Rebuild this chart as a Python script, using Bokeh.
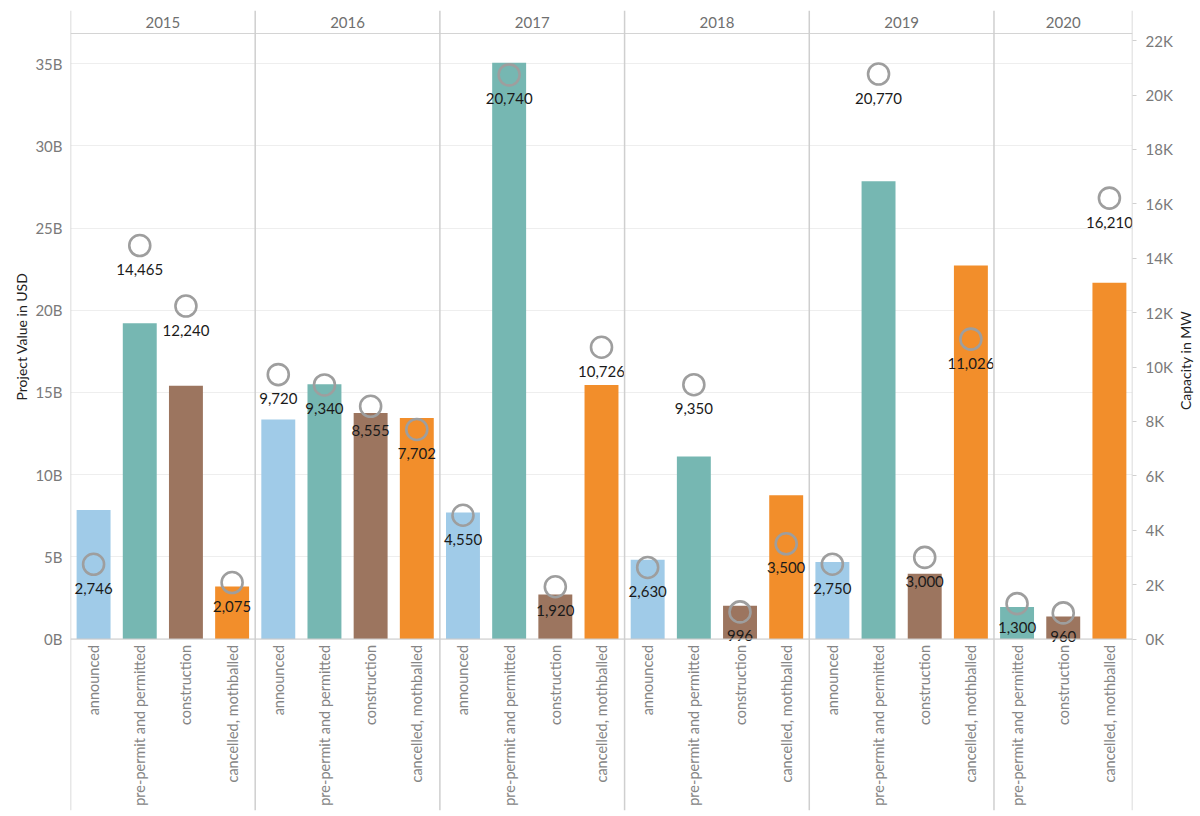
from bokeh.plotting import figure
from bokeh.layouts import row
from bokeh.models import Range1d, LinearAxis, FixedTicker, Span, ColumnDataSource, Title
from bokeh.embed import file_html
from bokeh.resources import INLINE
from bokeh.core.properties import value
import math

# ---------------- data ----------------
years = ["2015", "2016", "2017", "2018", "2019", "2020"]
year_status = [
    ["announced", "pre-permit and permitted", "construction", "cancelled, mothballed"],
    ["announced", "pre-permit and permitted", "construction", "cancelled, mothballed"],
    ["announced", "pre-permit and permitted", "construction", "cancelled, mothballed"],
    ["announced", "pre-permit and permitted", "construction", "cancelled, mothballed"],
    ["announced", "pre-permit and permitted", "construction", "cancelled, mothballed"],
    ["pre-permit and permitted", "construction", "cancelled, mothballed"],
]
# Project value in billions USD (bars)
value_2015 = [7.85, 19.2, 15.4, 3.2]
value_2016 = [13.35, 15.5, 13.75, 13.45]
value_2017 = [7.7, 35.05, 2.7, 15.45]
value_2018 = [4.82, 11.1, 2.02, 8.75]
value_2019 = [4.68, 27.85, 3.97, 22.72]
value_2020 = [1.94, 1.37, 21.67]
# Capacity in MW (circles)
capacity_2015 = [2746, 14465, 12240, 2075]
capacity_2016 = [9720, 9340, 8555, 7702]
capacity_2017 = [4550, 20740, 1920, 10726]
capacity_2018 = [2630, 9350, 996, 3500]
capacity_2019 = [2750, 20770, 3000, 11026]
capacity_2020 = [1300, 960, 16210]

usd_ticks = [0, 5, 10, 15, 20, 25, 30, 35]
mw_ticks = [0, 2000, 4000, 6000, 8000, 10000, 12000, 14000, 16000, 18000, 20000, 22000]

left_axis_title = "Project Value in USD"
right_axis_title = "Capacity in MW"

status_colors = {
    "announced": "#A0CBE8",
    "pre-permit and permitted": "#76B7B2",
    "construction": "#9C755F",
    "cancelled, mothballed": "#F28E2B",
}

values = [value_2015, value_2016, value_2017, value_2018, value_2019, value_2020]
capacities = [capacity_2015, capacity_2016, capacity_2017, capacity_2018, capacity_2019, capacity_2020]

# ---------------- build table ----------------
xs, vals, caps, stats, cols, labels = [], [], [], [], [], []
pane_edges = [0]
pane_centers = []
i = 0
for y, sts, vs, cs in zip(years, year_status, values, capacities):
    start = i
    for s, v, c in zip(sts, vs, cs):
        xs.append(i + 0.5)
        vals.append(v)
        caps.append(c)
        stats.append(s)
        cols.append(status_colors[s])
        labels.append(f"{c:,}")
        i += 1
    pane_edges.append(i)
    pane_centers.append((start + i) / 2)

src = ColumnDataSource(dict(x=xs, val=vals, cap=caps, status=stats, color=cols, label=labels))

# ---------------- geometry ----------------
PX_PER_B = 16.44
PX_PER_MW = 0.0272
ZERO_PX = 638.5
TOP_PX, BOT_PX = 10, 810
LEFT_PX, RIGHT_PX = 70, 1132
MAIN_W = 1175
SIDE_W = 20
H = 816
y_start = -(BOT_PX - ZERO_PX) / PX_PER_B
y_end = (ZERO_PX - TOP_PX) / PX_PER_B
mw_per_b = PX_PER_B / PX_PER_MW

p = figure(width=MAIN_W, height=H, output_backend="svg", toolbar_location=None,
           x_range=Range1d(0, len(xs)), y_range=Range1d(y_start, y_end),
           min_border_left=LEFT_PX, min_border_right=MAIN_W - RIGHT_PX,
           min_border_top=TOP_PX, min_border_bottom=H - BOT_PX)
p.extra_y_ranges = {"mw": Range1d(y_start * mw_per_b, y_end * mw_per_b)}
p.outline_line_color = None
p.background_fill_color = "white"
p.border_fill_color = "white"
p.xaxis.visible = False
p.xgrid.visible = False

FONT = "Lato"

# left axis
ya = p.yaxis[0]
ya.ticker = FixedTicker(ticks=usd_ticks)
ya.major_label_overrides = {t: f"{t}B" for t in usd_ticks}
ya.axis_line_color = None
ya.major_tick_line_color = None
ya.major_tick_out = 0
ya.major_tick_in = 0
ya.minor_tick_line_color = None
ya.minor_tick_out = 0
ya.minor_tick_in = 0
ya.major_label_text_font = FONT
ya.major_label_text_font_size = "15px"
ya.major_label_text_color = "#7a7a7a"
ya.major_label_standoff = 8

p.ygrid.ticker = FixedTicker(ticks=usd_ticks)
p.ygrid.grid_line_color = "#eeeeee"
p.ygrid.grid_line_width = 1

# right axis
ra = LinearAxis(y_range_name="mw", ticker=FixedTicker(ticks=mw_ticks))
ra.major_label_overrides = {t: f"{t // 1000}K" for t in mw_ticks}
ra.axis_line_color = None
ra.major_tick_line_color = "#d0d0d0"
ra.major_tick_out = 4
ra.major_tick_in = 0
ra.minor_tick_line_color = None
ra.minor_tick_out = 0
ra.minor_tick_in = 0
ra.major_label_text_font = FONT
ra.major_label_text_font_size = "15px"
ra.major_label_text_color = "#7a7a7a"
ra.major_label_standoff = 9
p.add_layout(ra, "right")

# left axis title as a side title (positioned along the side)
p.add_layout(Title(text=left_axis_title, align="left", offset=BOT_PX - 400,
                   standoff=6, text_font=FONT, text_font_size="14px",
                   text_font_style="normal", text_color="#222222"), "left")

# header separator & baseline
header_line_b = (ZERO_PX - 33) / PX_PER_B
p.add_layout(Span(location=header_line_b, dimension="width", line_color="#d4d4d4", line_width=1.2))
p.add_layout(Span(location=0, dimension="width", line_color="#cccccc", line_width=1.2))

# pane separators
for e in pane_edges:
    p.add_layout(Span(location=e, dimension="height", line_color="#cfcfcf", line_width=1.5))

# bars
p.vbar(x="x", top="val", bottom=0, width=0.735, color="color", line_color=None, source=src)

# circles
p.scatter(x="x", y="cap", y_range_name="mw", marker="circle", size=21, fill_color=None,
          line_color="#9e9e9e", line_width=2.6, source=src)

# capacity labels
p.text(x="x", y="cap", y_range_name="mw", text="label", y_offset=24, text_align="center",
       text_baseline="middle", text_font=value(FONT), text_font_size="15px",
       text_color="#1a1a1a", source=src)

# category labels (rotated)
p.text(x="x", y=0, text="status", angle=math.pi / 2, y_offset=6, text_align="right",
       text_baseline="middle", text_font=value(FONT), text_font_size="14.5px",
       text_color="#858585", source=src)

# year headers
header_text_b = (ZERO_PX - 22) / PX_PER_B
hsrc = ColumnDataSource(dict(x=pane_centers, y=[header_text_b] * len(years), t=years))
p.text(x="x", y="y", text="t", text_align="center", text_baseline="middle",
       text_font=value(FONT), text_font_size="15px", text_color="#6f6f6f", source=hsrc)

# narrow side strip carrying the right axis title (reads bottom-to-top)
side = figure(width=SIDE_W, height=H, output_backend="svg", toolbar_location=None,
              x_range=Range1d(0, 1), y_range=Range1d(H, 0), min_border=0)
side.outline_line_color = None
side.axis.visible = False
side.grid.visible = False
side.background_fill_color = "white"
side.border_fill_color = "white"
side.text(x=[0.5], y=[357], text=[right_axis_title], angle=math.pi / 2, text_align="center",
          text_baseline="middle", text_font=value(FONT), text_font_size="14px",
          text_color="#222222")

layout = row(p, side)
open("out.html", "w").write(file_html(layout, INLINE))
